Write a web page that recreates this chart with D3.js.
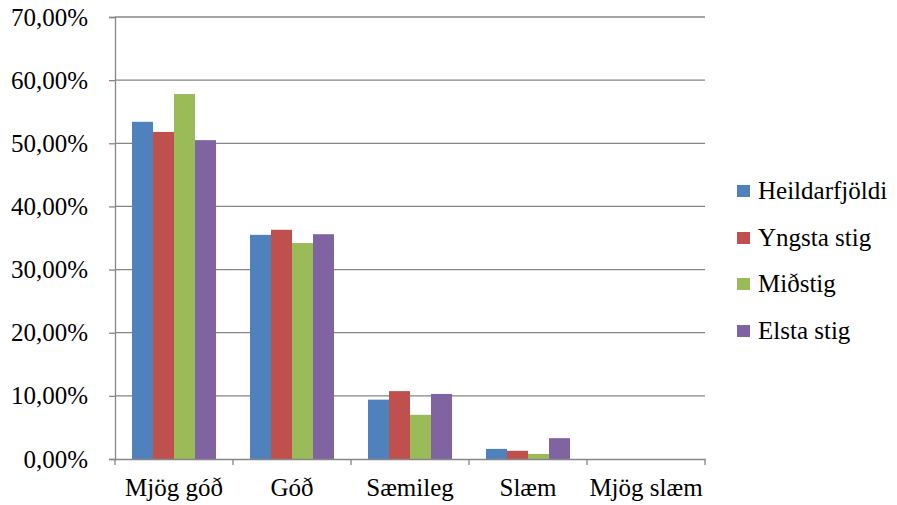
<!DOCTYPE html>
<html><head><meta charset="utf-8">
<script src="https://cdn.jsdelivr.net/npm/d3@7"></script>
<style>body{margin:0;background:#fff} svg text{font-family:"Liberation Serif","Times New Roman",Times,serif;}</style>
</head><body>
<svg id="c" width="897" height="505"></svg>
<script>
const categories = ["Mjög góð", "Góð", "Sæmileg", "Slæm", "Mjög slæm"];
const seriesNames = ["Heildarfjöldi", "Yngsta stig", "Miðstig", "Elsta stig"];
const heildarfjoldi = [53.4, 35.5, 9.4, 1.6, 0];
const yngstaStig = [51.8, 36.3, 10.75, 1.3, 0];
const midstig = [57.8, 34.2, 7.0, 0.8, 0];
const elstaStig = [50.5, 35.6, 10.3, 3.3, 0];
const yTicks = [0, 10, 20, 30, 40, 50, 60, 70];
const colors = ["#4F81BD", "#C0504D", "#9BBB59", "#8064A2"];

const series = [heildarfjoldi, yngstaStig, midstig, elstaStig];
const svg = d3.select("#c");
const L = 115, R = 705, T = 17, B = 459;
const FS = 25;
const grid = "#868686";

const x = d3.scaleBand().domain(categories).range([L, R]).paddingInner(0).paddingOuter(0);
const y = d3.scaleLinear().domain([0, 70]).range([B, T]);
const x1 = d3.scaleBand().domain(seriesNames).range([17, x.bandwidth() - 17]).padding(0);

// gridlines
svg.append("g").selectAll("line").data(yTicks.filter(d => d > 0)).join("line")
  .attr("x1", L).attr("x2", R).attr("y1", d => y(d)).attr("y2", d => y(d))
  .attr("stroke", grid).attr("stroke-width", 1.3);

// bars
const g = svg.append("g");
categories.forEach((c, i) => {
  seriesNames.forEach((s, j) => {
    const v = series[j][i];
    g.append("rect")
      .attr("x", x(c) + x1(s)).attr("width", x1.bandwidth())
      .attr("y", y(v)).attr("height", B - y(v))
      .attr("fill", colors[j]);
  });
});

// y axis
const yAxis = d3.axisLeft(y).tickValues(yTicks).tickSize(6).tickPadding(21)
  .tickFormat(d => d3.format(".2f")(d).replace(".", ",") + "%");
const ya = svg.append("g").attr("transform", `translate(${L},0)`).call(yAxis)
  .attr("font-size", FS).attr("font-family", null);
ya.select(".domain").attr("stroke", grid).attr("stroke-width", 1.3);
ya.selectAll(".tick line").attr("stroke", grid).attr("stroke-width", 1.3);
ya.selectAll("text").attr("fill", "#000");

// x axis
const xAxis = d3.axisBottom(x).tickSize(0).tickPadding(19);
const xa = svg.append("g").attr("transform", `translate(0,${B})`).call(xAxis)
  .attr("font-size", FS).attr("font-family", null);
xa.select(".domain").attr("stroke", grid).attr("stroke-width", 1.3);
xa.selectAll("text").attr("fill", "#000");
// category boundary ticks
const bounds = categories.map(c => x(c)).concat([R]);
svg.append("g").selectAll("line").data(bounds).join("line")
  .attr("x1", d => d).attr("x2", d => d).attr("y1", B).attr("y2", B + 6)
  .attr("stroke", grid).attr("stroke-width", 1.3);

// legend
const leg = svg.append("g");
const legY = [185, 232, 278, 325];
seriesNames.forEach((s, j) => {
  leg.append("rect").attr("x", 737).attr("y", legY[j]).attr("width", 13).attr("height", 12).attr("fill", colors[j]);
  leg.append("text").attr("x", 758).attr("y", legY[j] + 14).text(s)
    .attr("font-size", FS).attr("fill", "#000");
});
</script>
</body></html>
